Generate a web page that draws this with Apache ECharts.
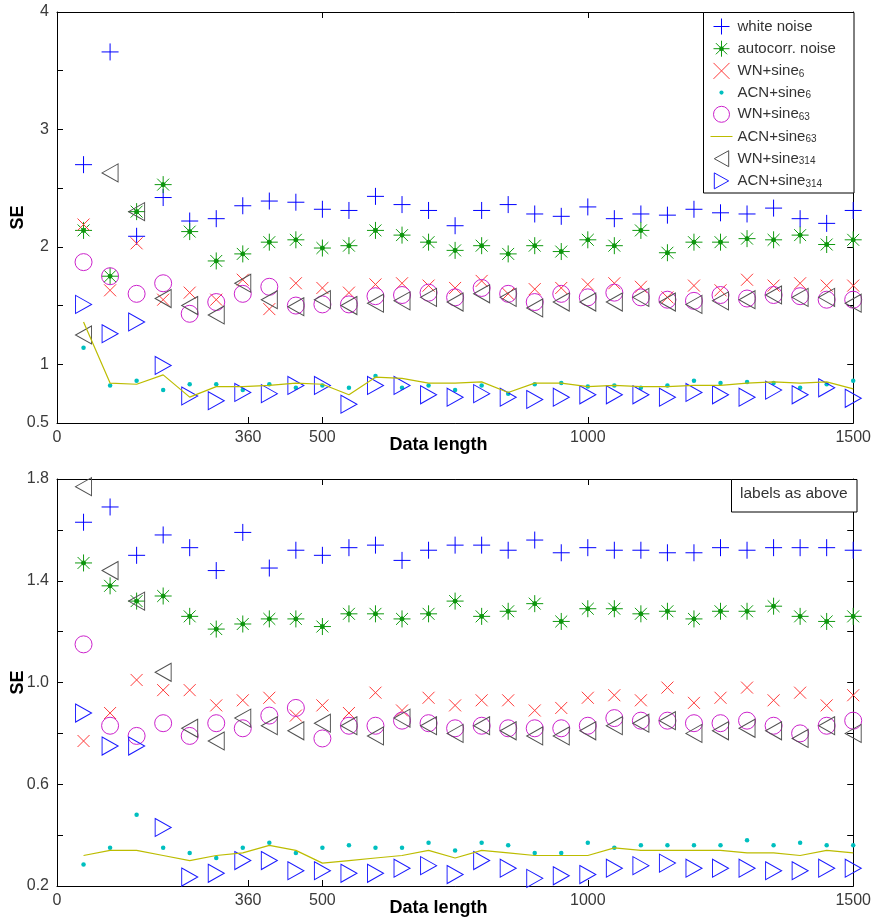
<!DOCTYPE html>
<html>
<head>
<meta charset="utf-8">
<title>SE vs data length</title>
<script src="https://cdn.jsdelivr.net/npm/echarts@6/dist/echarts.min.js"></script>
<style>
  html, body { margin: 0; padding: 0; background: #fff; }
  #chart { width: 874px; height: 919px; }
</style>
</head>
<body>
<div id="chart"></div>
<script>
// Data length (x) shared by both panels
const dataLength = [50, 100, 150, 200, 250, 300, 350, 400, 450, 500,
  550, 600, 650, 700, 750, 800, 850, 900, 950, 1000,
  1050, 1100, 1150, 1200, 1250, 1300, 1350, 1400, 1450, 1500];

// Upper panel SE values
const whiteTop = [2.70, 3.66, 2.09, 2.42, 2.22, 2.24, 2.35, 2.39, 2.38, 2.32, 2.31, 2.43, 2.36, 2.31, 2.18, 2.31, 2.36, 2.28, 2.26, 2.34, 2.24, 2.28, 2.27, 2.32, 2.29, 2.28, 2.33, 2.24, 2.20, 2.31];
const autoTop = [2.14, 1.75, 2.30, 2.53, 2.13, 1.88, 1.94, 2.04, 2.06, 1.99, 2.01, 2.14, 2.10, 2.04, 1.97, 2.01, 1.94, 2.01, 1.96, 2.06, 2.01, 2.14, 1.95, 2.04, 2.04, 2.07, 2.06, 2.10, 2.02, 2.06];
const wnSine6Top = [2.19, 1.63, 2.03, 1.55, 1.61, 1.55, 1.72, 1.47, 1.69, 1.65, 1.61, 1.68, 1.69, 1.67, 1.65, 1.71, 1.60, 1.64, 1.65, 1.68, 1.69, 1.66, 1.57, 1.67, 1.63, 1.72, 1.67, 1.69, 1.67, 1.67];
const acnSine6Top = [1.14, 0.82, 0.86, 0.78, 0.83, 0.83, 0.78, 0.83, 0.80, 0.82, 0.80, 0.90, 0.80, 0.82, 0.78, 0.82, 0.75, 0.83, 0.84, 0.81, 0.82, 0.80, 0.82, 0.86, 0.84, 0.85, 0.84, 0.80, 0.83, 0.86];
const wnSine63Top = [1.87, 1.75, 1.60, 1.69, 1.43, 1.53, 1.60, 1.66, 1.50, 1.51, 1.51, 1.58, 1.59, 1.61, 1.57, 1.65, 1.60, 1.53, 1.60, 1.57, 1.61, 1.57, 1.55, 1.54, 1.59, 1.56, 1.59, 1.58, 1.55, 1.55];
const acnSine63Top = [1.36, 0.84, 0.83, 0.91, 0.72, 0.81, 0.81, 0.82, 0.84, 0.83, 0.74, 0.89, 0.88, 0.84, 0.84, 0.85, 0.76, 0.84, 0.84, 0.81, 0.82, 0.81, 0.81, 0.82, 0.82, 0.84, 0.85, 0.84, 0.85, 0.79];
const wnSine314Top = [1.25, 2.63, 2.30, 1.56, 1.50, 1.42, 1.69, 1.55, 1.49, 1.55, 1.50, 1.52, 1.54, 1.57, 1.53, 1.60, 1.57, 1.48, 1.53, 1.53, 1.53, 1.57, 1.53, 1.51, 1.54, 1.55, 1.59, 1.57, 1.57, 1.52];
const acnSine314Top = [1.51, 1.26, 1.36, 0.99, 0.73, 0.69, 0.76, 0.75, 0.82, 0.82, 0.66, 0.82, 0.82, 0.74, 0.72, 0.75, 0.72, 0.70, 0.72, 0.74, 0.74, 0.74, 0.72, 0.76, 0.74, 0.72, 0.78, 0.74, 0.80, 0.71];

// Lower panel SE values
const whiteBot = [1.63, 1.69, 1.50, 1.58, 1.53, 1.44, 1.59, 1.45, 1.52, 1.50, 1.53, 1.54, 1.48, 1.52, 1.54, 1.54, 1.52, 1.56, 1.51, 1.53, 1.52, 1.52, 1.51, 1.51, 1.53, 1.52, 1.53, 1.53, 1.53, 1.52];
const autoBot = [1.47, 1.38, 1.32, 1.34, 1.26, 1.21, 1.23, 1.25, 1.25, 1.22, 1.27, 1.27, 1.25, 1.27, 1.32, 1.26, 1.28, 1.31, 1.24, 1.29, 1.29, 1.27, 1.28, 1.25, 1.28, 1.28, 1.30, 1.26, 1.24, 1.26];
const wnSine6Bot = [0.77, 0.88, 1.01, 0.97, 0.97, 0.91, 0.93, 0.94, 0.87, 0.91, 0.88, 0.96, 0.89, 0.94, 0.91, 0.93, 0.93, 0.89, 0.90, 0.94, 0.95, 0.93, 0.98, 0.92, 0.94, 0.98, 0.93, 0.96, 0.91, 0.95];
const acnSine6Bot = [0.285, 0.35, 0.48, 0.35, 0.33, 0.31, 0.35, 0.37, 0.33, 0.35, 0.36, 0.35, 0.35, 0.37, 0.34, 0.37, 0.36, 0.33, 0.33, 0.37, 0.35, 0.36, 0.36, 0.36, 0.36, 0.38, 0.36, 0.37, 0.36, 0.36];
const wnSine63Bot = [1.15, 0.83, 0.79, 0.84, 0.79, 0.84, 0.82, 0.87, 0.90, 0.78, 0.83, 0.83, 0.85, 0.84, 0.82, 0.83, 0.82, 0.82, 0.82, 0.83, 0.86, 0.85, 0.85, 0.84, 0.84, 0.85, 0.83, 0.80, 0.83, 0.85];
const acnSine63Bot = [0.32, 0.34, 0.34, 0.32, 0.30, 0.32, 0.33, 0.36, 0.34, 0.29, 0.30, 0.31, 0.32, 0.34, 0.31, 0.34, 0.33, 0.32, 0.32, 0.32, 0.35, 0.34, 0.34, 0.34, 0.34, 0.33, 0.33, 0.32, 0.34, 0.33];
const wnSine314Bot = [1.77, 1.44, 1.32, 1.04, 0.82, 0.77, 0.86, 0.83, 0.81, 0.84, 0.83, 0.79, 0.86, 0.83, 0.80, 0.83, 0.81, 0.79, 0.79, 0.81, 0.83, 0.84, 0.85, 0.80, 0.81, 0.82, 0.81, 0.78, 0.83, 0.80];
const acnSine314Bot = [0.88, 0.75, 0.75, 0.43, 0.235, 0.25, 0.30, 0.30, 0.26, 0.26, 0.25, 0.25, 0.27, 0.28, 0.245, 0.30, 0.27, 0.23, 0.24, 0.245, 0.27, 0.28, 0.29, 0.27, 0.27, 0.27, 0.26, 0.26, 0.27, 0.27];

// Axis ticks and labels
const xLabelValues = [0, 360, 500, 1000, 1500];
const xTickValues = [360, 500, 1000];
const xTopTickValues = [500, 1000];
const yTopLabelValues = [0.5, 1, 2, 3, 4];
const yBotLabelValues = ['0.2', '0.6', '1.0', '1.4', '1.8'];

// Marker paths
const SYM = {
  plus: 'path://M0,5L10,5M5,0L5,10',
  // asterisk: + and x arms with a small solid hub
  star: 'path://M0,5L10,5M5,0L5,10M1.5,1.5L8.5,8.5M8.5,1.5L1.5,8.5M5,3.8A1.2,1.2,0,1,1,5,6.2A1.2,1.2,0,1,1,5,3.8Z',
  cross: 'path://M0,0L10,10M10,0L0,10',
  triLeft: 'path://M10,0L0,5L10,10Z',
  triRight: 'path://M0,0L10,5L0,10Z',
  // legend-only icons: small dot and short line inside a fixed box
  dot: 'path://M0,0M10,10M5,3.7A1.3,1.3,0,1,1,5,6.3A1.3,1.3,0,1,1,5,3.7Z',
  hline: 'path://M0,0M0,8L22,8M22,16',
  triLeftLegend: 'path://M9,0L0,5L9,10Z',
  triRightLegend: 'path://M0,0L9,5L0,10Z'
};

const seriesDefs = [
  { name: 'white noise', top: whiteTop, bot: whiteBot, symbol: SYM.plus, size: 17, color: '#0000ff' },
  { name: 'autocorr. noise', top: autoTop, bot: autoBot, symbol: SYM.star, size: 17, color: '#109a10', fill: '#006a00' },
  { name: 'WN+sine6', top: wnSine6Top, bot: wnSine6Bot, symbol: SYM.cross, size: 12, color: '#ff3a3a' },
  { name: 'ACN+sine6', top: acnSine6Top, bot: acnSine6Bot, symbol: 'circle', size: 4.5, color: '#00bfbf', filled: true, legendIcon: SYM.dot },
  { name: 'WN+sine63', top: wnSine63Top, bot: wnSine63Bot, symbol: 'circle', size: 17, color: '#cc22cc' },
  { name: 'ACN+sine63', top: acnSine63Top, bot: acnSine63Bot, line: true, color: '#bcbc00', legendIcon: SYM.hline },
  { name: 'WN+sine314', top: wnSine314Top, bot: wnSine314Bot, symbol: SYM.triLeft, size: [16, 18], color: '#505050', legendIcon: SYM.triLeftLegend },
  { name: 'ACN+sine314', top: acnSine314Top, bot: acnSine314Bot, symbol: SYM.triRight, size: [16, 18], color: '#1a1aff', legendIcon: SYM.triRightLegend }
];

function pairs(values) {
  return dataLength.map((x, i) => [x, values[i]]);
}

function markerStyle(def) {
  if (def.filled) return { color: def.color, borderWidth: 0, opacity: 1 };
  return { color: def.fill || 'rgba(0,0,0,0)', borderColor: def.color, borderWidth: 1, opacity: 1 };
}

function makeSeries(def, values, axisIndex) {
  if (def.line) {
    return {
      name: def.name, type: 'line', xAxisIndex: axisIndex, yAxisIndex: axisIndex,
      data: pairs(values), showSymbol: false, symbol: 'none',
      lineStyle: { color: def.color, width: 1.2 },
      itemStyle: { color: def.color },
      silent: true
    };
  }
  return {
    name: def.name, type: 'scatter', xAxisIndex: axisIndex, yAxisIndex: axisIndex,
    data: pairs(values), symbol: def.symbol, symbolSize: def.size,
    itemStyle: markerStyle(def),
    silent: true
  };
}

const series = [];
seriesDefs.forEach(d => series.push(makeSeries(d, d.top, 0)));
seriesDefs.forEach(d => series.push(makeSeries(d, d.bot, 2)));

const labelColor = '#3a3a3a';
const fontFamily = 'Liberation Sans, Arial, sans-serif';
const tick = { show: true, inside: true, length: 6, lineStyle: { color: '#000', width: 1 } };
const line = { show: true, onZero: false, lineStyle: { color: '#000', width: 1 } };
const tickLabel = { color: labelColor, fontSize: 16, fontFamily: fontFamily };

function xAxes(gridIndex) {
  return [
    {
      type: 'value', gridIndex: gridIndex, min: 0, max: 1500, position: 'bottom',
      axisLine: line, splitLine: { show: false },
      axisTick: Object.assign({}, tick, { customValues: xTickValues }),
      axisLabel: Object.assign({}, tickLabel, {
        customValues: xLabelValues, margin: 7, showMinLabel: true, showMaxLabel: true,
        formatter: v => String(v)
      }),
      name: 'Data length', nameLocation: 'middle', nameGap: 13, nameMoveOverlap: false,
      nameTextStyle: { color: '#000', fontSize: 18, fontWeight: 'bold', fontFamily: fontFamily, padding: [0, 33, 0, 0] }
    },
    {
      type: 'value', gridIndex: gridIndex, min: 0, max: 1500, position: 'top',
      axisLine: line, splitLine: { show: false },
      axisTick: Object.assign({}, tick, { customValues: xTopTickValues }),
      axisLabel: { show: false }
    }
  ];
}

function yAxes(gridIndex, min, max, interval, formatter, nameGapPx) {
  return [
    {
      type: 'value', gridIndex: gridIndex, min: min, max: max, interval: interval, position: 'left',
      axisLine: line, splitLine: { show: false }, axisTick: tick,
      axisLabel: Object.assign({}, tickLabel, { formatter: formatter, margin: 8, showMinLabel: true, showMaxLabel: true }),
      name: 'SE', nameLocation: 'middle', nameGap: nameGapPx, nameRotate: 90, nameMoveOverlap: false,
      nameTextStyle: { color: '#000', fontSize: 18, fontWeight: 'bold', fontFamily: fontFamily }
    },
    {
      type: 'value', gridIndex: gridIndex, min: min, max: max, interval: interval, position: 'right',
      axisLine: line, splitLine: { show: false }, axisTick: tick,
      axisLabel: { show: false }
    }
  ];
}

const xAxis = [].concat(xAxes(0), xAxes(1));
const yAxis = [].concat(
  yAxes(0, 0.5, 4, 0.5, v => (yTopLabelValues.indexOf(v) >= 0 ? String(v) : ''), 30),
  yAxes(1, 0.2, 1.8, 0.2, v => (yBotLabelValues.indexOf(v.toFixed(1)) >= 0 ? v.toFixed(1) : ''), 30)
);

const legendNames = {
  'WN+sine6': 'WN+sine{sub|6}',
  'ACN+sine6': 'ACN+sine{sub|6}',
  'WN+sine63': 'WN+sine{sub|63}',
  'ACN+sine63': 'ACN+sine{sub|63}',
  'WN+sine314': 'WN+sine{sub|314}',
  'ACN+sine314': 'ACN+sine{sub|314}'
};

const legendData = seriesDefs.map(d => ({
  name: d.name,
  icon: d.legendIcon || d.symbol,
  itemStyle: markerStyle(d)
}));

const chart = echarts.init(document.getElementById('chart'), null, { renderer: 'canvas' });
chart.setOption({
  animation: false,
  backgroundColor: '#fff',
  textStyle: { fontFamily: fontFamily },
  grid: [
    { left: 57, top: 12, width: 797, height: 411, containLabel: false },
    { left: 57, top: 479, width: 800, height: 407, containLabel: false }
  ],
  xAxis: xAxis,
  yAxis: yAxis,
  legend: {
    orient: 'vertical', left: 710, top: 18, padding: 0,
    itemWidth: 22, itemHeight: 16, itemGap: 5.2,
    selectedMode: false, symbolKeepAspect: true,
    data: legendData,
    formatter: name => legendNames[name] || name,
    textStyle: {
      color: '#333', fontSize: 15, lineHeight: 16, fontFamily: fontFamily,
      rich: { sub: { fontSize: 10, lineHeight: 8, verticalAlign: 'bottom', color: '#333', fontFamily: fontFamily } }
    },
    z: 5
  },
  graphic: [
    {
      type: 'rect', z: 4, silent: true,
      shape: { x: 703.5, y: 12.5, width: 150.5, height: 180.5 },
      style: { fill: '#fff', stroke: '#000', lineWidth: 1 }
    },
    {
      type: 'rect', z: 4, silent: true,
      shape: { x: 731.5, y: 479.5, width: 125.5, height: 32.5 },
      style: { fill: '#fff', stroke: '#000', lineWidth: 1 }
    },
    {
      type: 'text', z: 5, silent: true, left: 740, top: 486,
      style: { text: 'labels as above', fill: '#333', fontSize: 15.5, fontFamily: fontFamily }
    }
  ],
  series: series
});
</script>
</body>
</html>
